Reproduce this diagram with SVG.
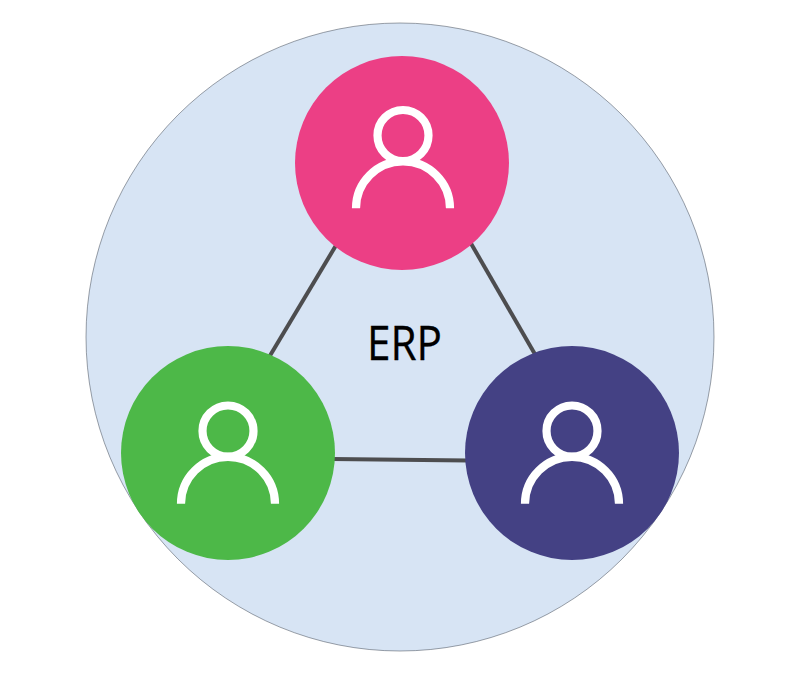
<svg xmlns="http://www.w3.org/2000/svg" xmlns:xlink="http://www.w3.org/1999/xlink" width="792" height="695" viewBox="0 0 792 695">
<style>
.link{stroke:#4d4d4f;stroke-width:4;fill:none}
.icon{fill:none;stroke:#fff;stroke-width:8.2}
.label{font-family:"Open Sans","Noto Sans",sans-serif;font-size:47px;fill:#000;stroke:#000;stroke-width:0.3}
</style>
<defs>
<g id="person">
<circle cx="0" cy="-27.5" r="25.5" class="icon"/>
<path d="M-47 45.3A47 47 0 0 1 47 45.3" class="icon"/>
</g>
</defs>
<rect width="792" height="695" fill="#fff"/>
<g id="background"><circle cx="400" cy="337" r="314" fill="#d7e4f4" stroke="#3c4450" stroke-width="0.5"/></g>
<g id="connectors">
<line class="link" x1="338" y1="242" x2="268" y2="359"/>
<line class="link" x1="469" y1="240" x2="536" y2="356"/>
<line class="link" x1="332" y1="459" x2="468" y2="460.5"/>
</g>
<g id="node-top"><circle cx="402" cy="163" r="107" fill="#ec3f85"/><use xlink:href="#person" href="#person" transform="translate(403 163)"/></g>
<g id="node-left"><circle cx="228" cy="453" r="107" fill="#4db848"/><use xlink:href="#person" href="#person" transform="translate(228 458.5)"/></g>
<g id="node-right"><circle cx="572" cy="453" r="107" fill="#444184"/><use xlink:href="#person" href="#person" transform="translate(572 458.5)"/></g>
<g id="label-erp"><text class="label" x="367" y="360" textLength="75" lengthAdjust="spacingAndGlyphs">ERP</text></g>
</svg>
